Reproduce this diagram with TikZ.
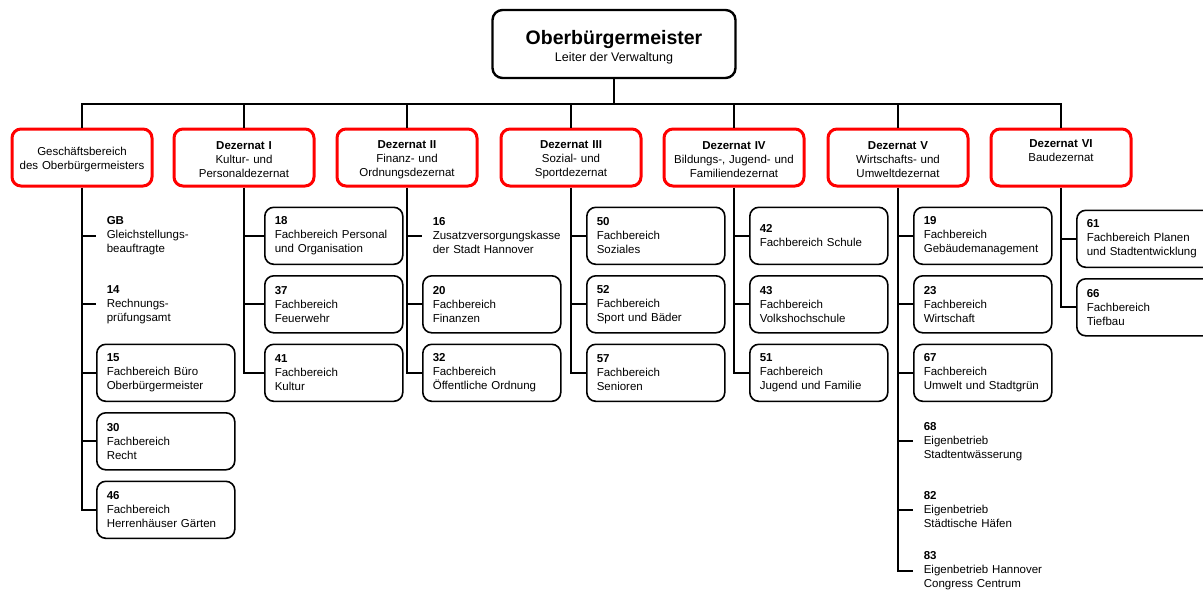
\documentclass[tikz,border=0pt]{standalone}
\usepackage{fontspec}
\setmainfont{Liberation Sans}
\usepackage{tikz}
\newcommand{\unitfont}{\fontsize{11.5}{14}\selectfont\hyphenpenalty=10000\exhyphenpenalty=10000}
\newcommand{\unit}[2]{\textbf{#1}\\#2}
\tikzset{
  chief/.style={draw,line width=2.4pt,rounded corners=10pt,minimum width=243pt,
    minimum height=68pt,align=center,inner sep=0pt},
  dez/.style={draw=red,line width=3pt,rounded corners=9pt,minimum width=140pt,
    minimum height=57pt,text width=136pt,inner sep=2pt,align=center,font=\unitfont,
    execute at begin node={\rule{0pt}{12.5pt}}},
  fbbox/.style={draw,line width=1.6pt,rounded corners=9pt,anchor=north west,
    minimum height=57pt,text width=118pt,inner xsep=10pt,inner ysep=0pt,
    align=left,font=\unitfont},
  fbtext/.style={fbbox,draw=none,text width=140pt},
  link/.style={line width=1.8pt},
}

\begin{document}
\begin{tikzpicture}[x=1pt,y=-1pt]
\useasboundingbox (0,0) rectangle (1203,592);
% head
\node[chief] (ob) at (614,44)
  {{\fontsize{19.5}{22}\selectfont\bfseries\rule{0pt}{20pt}Oberbürgermeister}\\[3pt]
   {\fontsize{12.5}{17}\selectfont Leiter der Verwaltung}};
\coordinate (bus) at (614,104);
% dezernate
\node[dez] (d0) at (82,157.5) {Geschäftsbereich\\des Oberbürgermeisters};
\node[dez] (d1) at (244,157.5) {\unit{Dezernat I}{Kultur- und\\Personaldezernat}};
\node[dez] (d2) at (407,157.5) {\unit{Dezernat II}{Finanz- und\\Ordnungsdezernat}};
\node[dez] (d3) at (571,157.5) {\unit{Dezernat III}{Sozial- und\\Sportdezernat}};
\node[dez] (d4) at (734,157.5) {\unit{Dezernat IV}{Bildungs-, Jugend- und\\Familiendezernat}};
\node[dez] (d5) at (898,157.5) {\unit{Dezernat V}{Wirtschafts- und\\Umweltdezernat}};
\node[dez] (d6) at (1061,157.5) {\unit{Dezernat VI}{Baudezernat\\\strut}};
\draw[link] (ob) -- (bus);
\draw[link] (bus) -| (d0.north) (bus) -| (d1.north) (bus) -| (d2.north)
  (bus) -| (d3.north) (bus) -| (d4.north) (bus) -| (d5.north) (bus) -| (d6.north);
% geschaeftsbereich
\node[fbtext] (uGB) at (96,206.5) {\unit{GB}{Gleichstellungs-\\beauftragte}};
\node[fbtext] (u14) at (96,275) {\unit{14}{Rechnungs-\\prüfungsamt}};
\node[fbbox] (u15) at (96,343.5) {\unit{15}{Fachbereich Büro\\Oberbürgermeister}};
\node[fbbox] (u30) at (96,412) {\unit{30}{Fachbereich\\Recht}};
\node[fbbox] (u46) at (96,480.5) {\unit{46}{Fachbereich\\Herrenhäuser Gärten}};
\draw[link] (d0.south) |- (uGB.west) (d0.south) |- (u14.west) (d0.south) |- (u15.west)
  (d0.south) |- (u30.west) (d0.south) |- (u46.west);
% dezernat I
\node[fbbox] (u18) at (264,206.5) {\unit{18}{Fachbereich Personal\\und Organisation}};
\node[fbbox] (u37) at (264,275) {\unit{37}{Fachbereich\\Feuerwehr}};
\node[fbbox] (u41) at (264,343.5) {\unit{41}{Fachbereich\\Kultur}};
\draw[link] (d1.south) |- (u18.west) (d1.south) |- (u37.west) (d1.south) |- (u41.west);
% dezernat II
\node[fbtext] (u16) at (422,206.5) {\unit{16}{Zusatzversorgungskasse\\der Stadt Hannover}};
\node[fbbox] (u20) at (422,275) {\unit{20}{Fachbereich\\Finanzen}};
\node[fbbox] (u32) at (422,343.5) {\unit{32}{Fachbereich\\Öffentliche Ordnung}};
\draw[link] (d2.south) |- (u16.west) (d2.south) |- (u20.west) (d2.south) |- (u32.west);
% dezernat III
\node[fbbox] (u50) at (586,206.5) {\unit{50}{Fachbereich\\Soziales}};
\node[fbbox] (u52) at (586,275) {\unit{52}{Fachbereich\\Sport und Bäder}};
\node[fbbox] (u57) at (586,343.5) {\unit{57}{Fachbereich\\Senioren}};
\draw[link] (d3.south) |- (u50.west) (d3.south) |- (u52.west) (d3.south) |- (u57.west);
% dezernat IV
\node[fbbox] (u42) at (749,206.5) {\unit{42}{Fachbereich Schule}};
\node[fbbox] (u43) at (749,275) {\unit{43}{Fachbereich\\Volkshochschule}};
\node[fbbox] (u51) at (749,343.5) {\unit{51}{Fachbereich\\Jugend und Familie}};
\draw[link] (d4.south) |- (u42.west) (d4.south) |- (u43.west) (d4.south) |- (u51.west);
% dezernat V
\node[fbbox] (u19) at (913,206.5) {\unit{19}{Fachbereich\\Gebäudemanagement}};
\node[fbbox] (u23) at (913,275) {\unit{23}{Fachbereich\\Wirtschaft}};
\node[fbbox] (u67) at (913,343.5) {\unit{67}{Fachbereich\\Umwelt und Stadtgrün}};
\node[fbtext] (u68) at (913,412) {\unit{68}{Eigenbetrieb\\Stadtentwässerung}};
\node[fbtext] (u82) at (913,480.5) {\unit{82}{Eigenbetrieb\\Städtische Häfen}};
\node[fbtext] (u83) at (913,541.5) {\unit{83}{Eigenbetrieb Hannover\\Congress Centrum}};
\draw[link] (d5.south) |- (u19.west) (d5.south) |- (u23.west) (d5.south) |- (u67.west)
  (d5.south) |- (u68.west) (d5.south) |- (u82.west) (d5.south) |- (u83.west);
% dezernat VI
\node[fbbox] (u61) at (1076,209.5) {\unit{61}{Fachbereich Planen\\und Stadtentwicklung}};
\node[fbbox] (u66) at (1076,278) {\unit{66}{Fachbereich\\Tiefbau}};
\draw[link] (d6.south) |- (u61.west) (d6.south) |- (u66.west);
\end{tikzpicture}
\end{document}
